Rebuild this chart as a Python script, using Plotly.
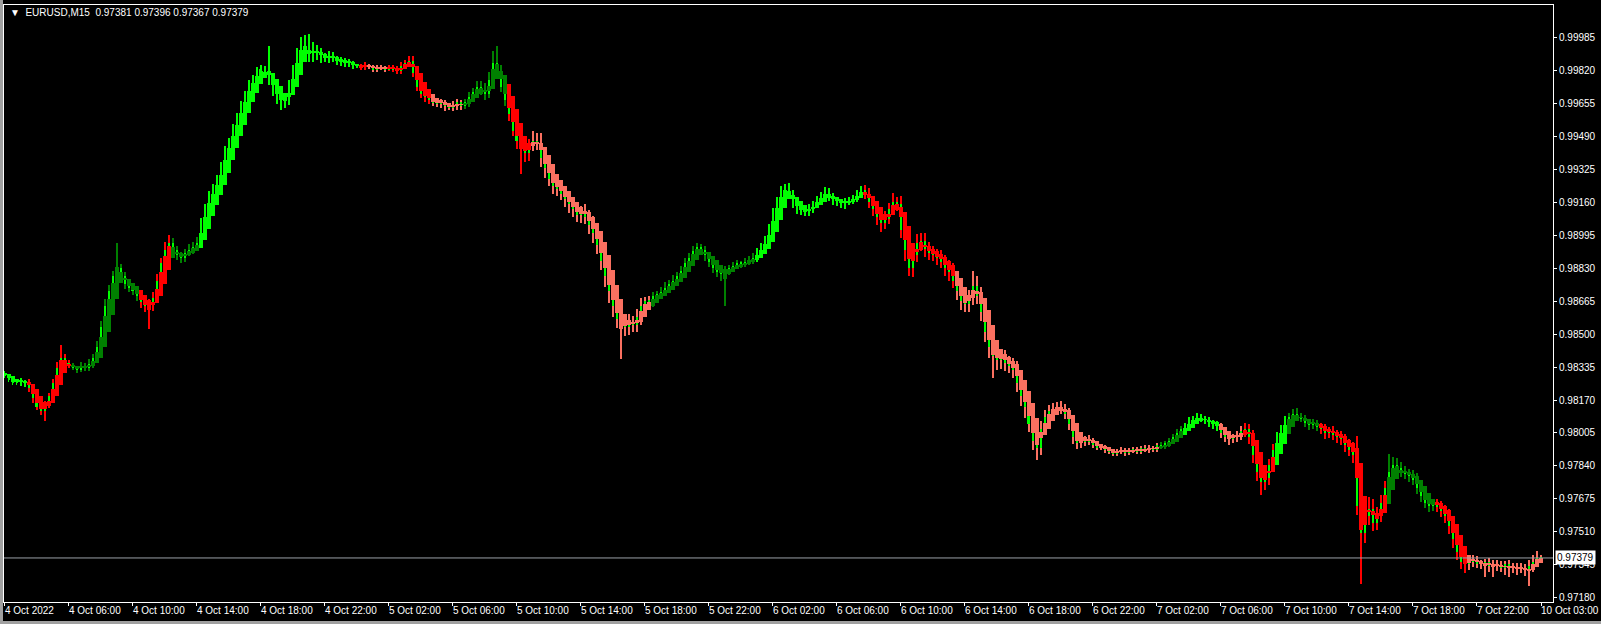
import plotly.graph_objects as go

# ---------------- data (prices in points, 1 point = 0.00001) ----------------
first_open_pts = 98306
close_pts = [
    98291, 98270, 98255, 98270, 98250, 98260, 98229, 98178, 98137, 98117, 98147, 98188, 98255, 98332, 98383, 98357,
    98342, 98332, 98321, 98342, 98332, 98352, 98383, 98434, 98536, 98639, 98715, 98792, 98833, 98792, 98751, 98731,
    98715, 98690, 98659, 98639, 98649, 98680, 98767, 98854, 98920, 98956, 98920, 98895, 98884, 98905, 98920, 98936,
    98956, 99048, 99125, 99176, 99227, 99263, 99330, 99406, 99458, 99519, 99570, 99637, 99688, 99739, 99775, 99806,
    99826, 99806, 99775, 99724, 99688, 99662, 99672, 99739, 99816, 99893, 99944, 99928, 99893, 99918, 99908, 99887,
    99877, 99893, 99877, 99867, 99857, 99867, 99852, 99841, 99841, 99836, 99846, 99836, 99826, 99836, 99831, 99826,
    99836, 99826, 99816, 99841, 99857, 99867, 99806, 99739, 99703, 99688, 99672, 99662, 99652, 99662, 99642, 99637,
    99647, 99662, 99642, 99662, 99688, 99713, 99739, 99724, 99703, 99775, 99857, 99816, 99739, 99672, 99601, 99519,
    99468, 99432, 99406, 99447, 99468, 99458, 99381, 99330, 99278, 99243, 99227, 99202, 99176, 99150, 99125, 99099,
    99110, 99089, 99048, 99007, 98946, 98869, 98792, 98715, 98639, 98577, 98547, 98536, 98557, 98547, 98588, 98639,
    98664, 98664, 98690, 98700, 98710, 98731, 98751, 98767, 98792, 98818, 98854, 98884, 98915, 98936, 98920, 98895,
    98864, 98833, 98813, 98802, 98823, 98833, 98843, 98854, 98854, 98864, 98874, 98884, 98905, 98936, 98966, 99023,
    99099, 99161, 99212, 99232, 99202, 99161, 99130, 99120, 99110, 99130, 99150, 99171, 99191, 99212, 99191, 99171,
    99161, 99150, 99161, 99171, 99181, 99202, 99222, 99202, 99161, 99125, 99089, 99058, 99079, 99125, 99161, 99150,
    99023, 98920, 98833, 98895, 98956, 98966, 98925, 98905, 98895, 98884, 98864, 98833, 98813, 98767, 98715, 98664,
    98649, 98680, 98741, 98690, 98613, 98511, 98434, 98393, 98372, 98383, 98357, 98342, 98321, 98255, 98188, 98137,
    98050, 97963, 97932, 98024, 98086, 98117, 98127, 98137, 98127, 98101, 98050, 97984, 97953, 97963, 97973, 97963,
    97943, 97932, 97932, 97922, 97912, 97902, 97912, 97922, 97907, 97917, 97922, 97912, 97932, 97922, 97932, 97922,
    97943, 97938, 97953, 97963, 97984, 98004, 98024, 98035, 98066, 98076, 98086, 98076, 98066, 98055, 98045, 98035,
    98004, 97984, 97973, 97984, 97994, 98014, 98024, 97984, 97897, 97810, 97758, 97779, 97845, 97922, 97984, 98024,
    98066, 98086, 98101, 98086, 98076, 98055, 98045, 98050, 98035, 98024, 98004, 98014, 97994, 97984, 97973, 97943,
    97922, 97897, 97641, 97503, 97589, 97625, 97554, 97589, 97656, 97728, 97810, 97845, 97830, 97810, 97799, 97789,
    97769, 97728, 97687, 97656, 97641, 97651, 97636, 97615, 97589, 97539, 97472, 97411, 97359, 97349, 97359, 97370,
    97349, 97349, 97359, 97339, 97349, 97339, 97329, 97349, 97329, 97334, 97324, 97329, 97318, 97339, 97359, 97381,
    97379,
]
upper_wick_pts = [
    8, 6, 10, 7, 12, 9, 14, 10, 8, 12, 18, 15, 22, 30, 61, 20,
    12, 15, 10, 18, 12, 25, 20, 30, 28, 35, 30, 25, 123, 20, 18, 15,
    22, 18, 20, 15, 25, 30, 35, 28, 40, 41, 25, 20, 18, 22, 30, 25,
    30, 35, 28, 40, 25, 33, 30, 38, 27, 35, 40, 30, 28, 35, 25, 30,
    20, 18, 138, 25, 30, 22, 28, 35, 30, 40, 46, 54, 76, 45, 30, 25,
    20, 25, 18, 15, 20, 18, 12, 15, 10, 12, 15, 8, 12, 10, 14, 12,
    10, 12, 15, 20, 18, 26, 25, 22, 18, 15, 20, 12, 18, 15, 12, 14,
    20, 15, 12, 18, 25, 22, 30, 28, 35, 40, 61, 87, 30, 25, 22, 30,
    35, 45, 38, 30, 51, 40, 48, 35, 42, 30, 45, 38, 28, 40, 35, 30,
    30, 40, 35, 42, 48, 35, 50, 40, 38, 45, 30, 40, 45, 35, 40, 42,
    20, 25, 22, 18, 25, 30, 22, 28, 20, 25, 30, 22, 28, 20, 18, 22,
    15, 18, 20, 22, 18, 15, 20, 16, 14, 18, 20, 22, 25, 20, 28, 30,
    35, 28, 30, 21, 25, 20, 22, 18, 15, 20, 18, 22, 20, 25, 18, 15,
    18, 15, 20, 16, 18, 22, 20, 25, 28, 30, 22, 35, 40, 30, 45, 25,
    40, 50, 38, 55, 45, 41, 40, 35, 38, 30, 40, 35, 38, 45, 40, 50,
    45, 40, 77, 50, 45, 40, 55, 50, 45, 40, 38, 35, 40, 45, 38, 50,
    35, 30, 45, 40, 35, 28, 30, 25, 30, 22, 28, 25, 20, 22, 18, 20,
    15, 12, 10, 14, 12, 10, 15, 12, 10, 14, 12, 15, 10, 12, 14, 10,
    12, 15, 14, 18, 15, 20, 18, 22, 20, 15, 18, 16, 14, 18, 15, 20,
    18, 22, 20, 18, 22, 25, 30, 28, 35, 30, 40, 35, 30, 28, 25, 22,
    25, 20, 22, 28, 20, 18, 22, 25, 20, 22, 25, 20, 28, 25, 30, 25,
    30, 40, 93, 40, 45, 60, 50, 45, 40, 35, 92, 40, 35, 30, 28, 25,
    30, 35, 28, 25, 30, 22, 25, 28, 30, 35, 40, 45, 38, 30, 25, 22,
    18, 20, 15, 22, 18, 20, 25, 15, 22, 18, 20, 25, 22, 30, 35, 31,
    15,
]
lower_wick_pts = [
    10, 8, 12, 9, 10, 14, 18, 22, 15, 20, 51, 15, 10, 18, 12, 15,
    12, 10, 15, 12, 18, 15, 20, 15, 22, 18, 25, 20, 18, 30, 25, 22,
    20, 25, 30, 28, 113, 35, 25, 20, 22, 18, 30, 25, 28, 20, 15, 18,
    20, 18, 25, 22, 28, 30, 25, 22, 20, 25, 18, 22, 20, 18, 25, 20,
    18, 22, 25, 30, 35, 40, 30, 25, 20, 18, 22, 25, 30, 28, 35, 30,
    15, 18, 12, 20, 15, 18, 12, 15, 10, 14, 12, 10, 12, 15, 10, 12,
    10, 14, 12, 15, 10, 12, 18, 20, 22, 25, 18, 20, 15, 18, 22, 15,
    18, 25, 20, 15, 22, 18, 20, 25, 30, 22, 20, 18, 25, 30, 35, 28,
    40, 128, 45, 38, 30, 35, 45, 50, 38, 42, 35, 30, 40, 45, 38, 35,
    40, 35, 45, 50, 42, 48, 55, 60, 52, 45, 169, 45, 40, 38, 35, 40,
    25, 30, 28, 22, 25, 20, 25, 22, 28, 20, 25, 22, 18, 20, 25, 28,
    30, 25, 28, 35, 163, 25, 20, 18, 22, 20, 18, 22, 20, 18, 22, 25,
    20, 25, 22, 18, 25, 30, 28, 22, 20, 18, 22, 20, 25, 18, 22, 25,
    20, 18, 22, 15, 18, 20, 22, 25, 30, 35, 40, 45, 30, 25, 28, 35,
    40, 55, 41, 45, 35, 38, 40, 35, 30, 38, 35, 40, 45, 38, 42, 45,
    40, 38, 35, 40, 45, 50, 55, 113, 50, 45, 40, 38, 40, 45, 50, 55,
    40, 45, 61, 35, 30, 28, 25, 22, 25, 28, 30, 35, 28, 25, 22, 18,
    14, 12, 10, 15, 12, 14, 10, 12, 15, 10, 12, 14, 10, 12, 15, 12,
    12, 15, 12, 18, 14, 16, 18, 15, 20, 18, 16, 18, 15, 20, 18, 22,
    25, 22, 28, 20, 25, 22, 30, 35, 40, 45, 66, 40, 35, 30, 25, 22,
    20, 22, 25, 20, 18, 22, 25, 20, 22, 25, 28, 22, 25, 30, 28, 35,
    30, 40, 45, 256, 50, 45, 40, 35, 30, 28, 25, 30, 28, 25, 22, 28,
    25, 30, 28, 25, 30, 28, 25, 30, 35, 40, 45, 40, 35, 45, 30, 25,
    20, 25, 66, 30, 56, 25, 20, 35, 46, 25, 30, 20, 28, 79, 30, 14,
    12,
]
# indicator colour state, as runs of (state, number of bars)
ha_state_runs = [
    ("lime", 6), ("red", 11), ("dkgreen", 17), ("red", 8), ("dkgreen", 7), ("lime", 40),
    ("red", 2), ("salmon", 5), ("red", 11), ("salmon", 8), ("dkgreen", 11), ("red", 6),
    ("salmon", 30), ("dkgreen", 26), ("lime", 27), ("red", 23), ("salmon", 51),
    ("dkgreen", 6), ("lime", 9), ("salmon", 6), ("red", 8), ("lime", 3), ("dkgreen", 8),
    ("red", 17), ("dkgreen", 12), ("red", 8), ("salmon", 19),
]
x_tick_labels = [
    "4 Oct 2022", "4 Oct 06:00", "4 Oct 10:00", "4 Oct 14:00", "4 Oct 18:00", "4 Oct 22:00",
    "5 Oct 02:00", "5 Oct 06:00", "5 Oct 10:00", "5 Oct 14:00", "5 Oct 18:00", "5 Oct 22:00",
    "6 Oct 02:00", "6 Oct 06:00", "6 Oct 10:00", "6 Oct 14:00", "6 Oct 18:00", "6 Oct 22:00",
    "7 Oct 02:00", "7 Oct 06:00", "7 Oct 10:00", "7 Oct 14:00", "7 Oct 18:00", "7 Oct 22:00",
    "10 Oct 03:00",
]
bars_per_label = 16
price_ticks = [0.97180, 0.97345, 0.97510, 0.97675, 0.97840, 0.98005, 0.98170, 0.98335, 0.98500,
               0.98665, 0.98830, 0.98995, 0.99160, 0.99325, 0.99490, 0.99655, 0.99820, 0.99985]
symbol = "EURUSD,M15"
last_ohlc = [0.97381, 0.97396, 0.97367, 0.97379]
bid_price = 0.97379

# ---------------- derived ----------------
P = 1e-5
n = len(close_pts)
closes = [c * P for c in close_pts]
opens = [first_open_pts * P] + closes[:-1]
highs = [max(o, c) + u * P for o, c, u in zip(opens, closes, upper_wick_pts)]
lows = [min(o, c) - d * P for o, c, d in zip(opens, closes, lower_wick_pts)]
idx = list(range(n))

ha_o, ha_c = [], []
for i in range(n):
    hc = (opens[i] + highs[i] + lows[i] + closes[i]) / 4
    ho = (opens[0] + closes[0]) / 2 if i == 0 else (ha_o[-1] + ha_c[-1]) / 2
    ha_o.append(ho)
    ha_c.append(hc)
ha_hi = [max(h, a, b) for h, a, b in zip(highs, ha_o, ha_c)]
ha_lo = [min(l, a, b) for l, a, b in zip(lows, ha_o, ha_c)]

palette = {"lime": "#00FF00", "dkgreen": "#008000", "red": "#FF0000", "salmon": "#FA7060"}
ha_cols = []
for st, k in ha_state_runs:
    ha_cols += [palette[st]] * k
ha_cols = ha_cols[:n] + [palette["salmon"]] * (n - len(ha_cols))

MINH = 0.00004
fig = go.Figure()
# indicator high-low lines
fig.add_trace(go.Bar(x=idx, base=ha_lo, y=[h - l for h, l in zip(ha_hi, ha_lo)], width=0.25,
                     marker=dict(color=ha_cols, line=dict(width=0)), hoverinfo="skip"))
# price candle bodies
fig.add_trace(go.Bar(x=idx, base=[min(o, c) for o, c in zip(opens, closes)],
                     y=[max(abs(c - o), MINH) for o, c in zip(opens, closes)], width=0.5,
                     marker=dict(color="#00FF00", line=dict(width=0)), hoverinfo="skip"))
# indicator bodies
fig.add_trace(go.Bar(x=idx, base=[min(a, b) for a, b in zip(ha_o, ha_c)],
                     y=[max(abs(a - b), MINH) for a, b in zip(ha_o, ha_c)], width=1.0,
                     marker=dict(color=ha_cols, line=dict(width=0)), hoverinfo="skip"))

W, H = 1601, 624
L, R, T, B = 4, 48, 5, 22
pw, ph = W - L - R, H - T - B

tick_bars = [k * bars_per_label for k in range(len(x_tick_labels))]
FONT = "Liberation Sans, Arial, sans-serif"

annotations = []
for tb, lab in zip(tick_bars, x_tick_labels):
    annotations.append(dict(x=tb, xref="x", y=-(610.5 - (H - B)) / ph, yref="paper", text=lab,
                            showarrow=False, xanchor="left", yanchor="middle", xshift=-2,
                            font=dict(family=FONT, size=10, color="#FFFFFF")))
annotations.append(dict(x=(8 - L) / pw, xref="paper", y=1 + (T - 12.7) / ph, yref="paper",
                        text="▼\u00a0\u00a0" + symbol + "\u00a0\u00a0" +
                        "\u00a0".join("%.5f" % v for v in last_ohlc),
                        showarrow=False, xanchor="left", yanchor="middle",
                        font=dict(family=FONT, size=10, color="#FFFFFF")))
annotations.append(dict(x=1 + 2 / pw, xref="paper", y=bid_price, yref="y", text="%.5f" % bid_price,
                        showarrow=False, xanchor="left", yanchor="middle", bgcolor="#FFFFFF",
                        borderpad=1, font=dict(family=FONT, size=10, color="#000000")))

shapes = [
    dict(type="line", xref="paper", x0=0, x1=1, yref="y", y0=bid_price, y1=bid_price,
         line=dict(color="#9AA0A8", width=1), layer="above"),
    # window frame strips (left and bottom)
    dict(type="rect", xref="paper", yref="paper", x0=-L / pw, x1=(3 - L) / pw,
         y0=-B / ph, y1=1 + T / ph, fillcolor="#A0A0A0", line=dict(width=0)),
    dict(type="rect", xref="paper", yref="paper", x0=-L / pw, x1=1 + R / pw,
         y0=-B / ph, y1=-(621 - (H - B)) / ph, fillcolor="#A0A0A0", line=dict(width=0)),
]

ymin = 0.99985 - (H - B - 37.7) / 19964
ymax = 0.99985 + (37.7 - T) / 19964

fig.update_layout(
    width=W, height=H, margin=dict(l=L, r=R, t=T, b=B, pad=0),
    paper_bgcolor="#000000", plot_bgcolor="#000000", barmode="overlay", bargap=0,
    showlegend=False, annotations=annotations, shapes=shapes,
    xaxis=dict(range=[-0.125, (W - R - 5) / 4], showgrid=False, zeroline=False, showline=True,
               linecolor="#FFFFFF", linewidth=1, mirror=True, ticks="outside", ticklen=3,
               tickcolor="#FFFFFF", tickvals=tick_bars, showticklabels=False, fixedrange=True),
    yaxis=dict(range=[ymin, ymax], side="right", showgrid=False, zeroline=False, showline=True,
               linecolor="#FFFFFF", linewidth=1, mirror=True, ticks="outside", ticklen=3,
               tickcolor="#FFFFFF", tickvals=price_ticks, ticktext=["%.5f" % v for v in price_ticks],
               tickfont=dict(family=FONT, size=10, color="#FFFFFF"), fixedrange=True),
)
fig.write_html("out.html", config={"displayModeBar": False},
               post_script="document.body.style.margin='0';document.body.style.padding='0';"
                           "document.body.style.background='#000';")
